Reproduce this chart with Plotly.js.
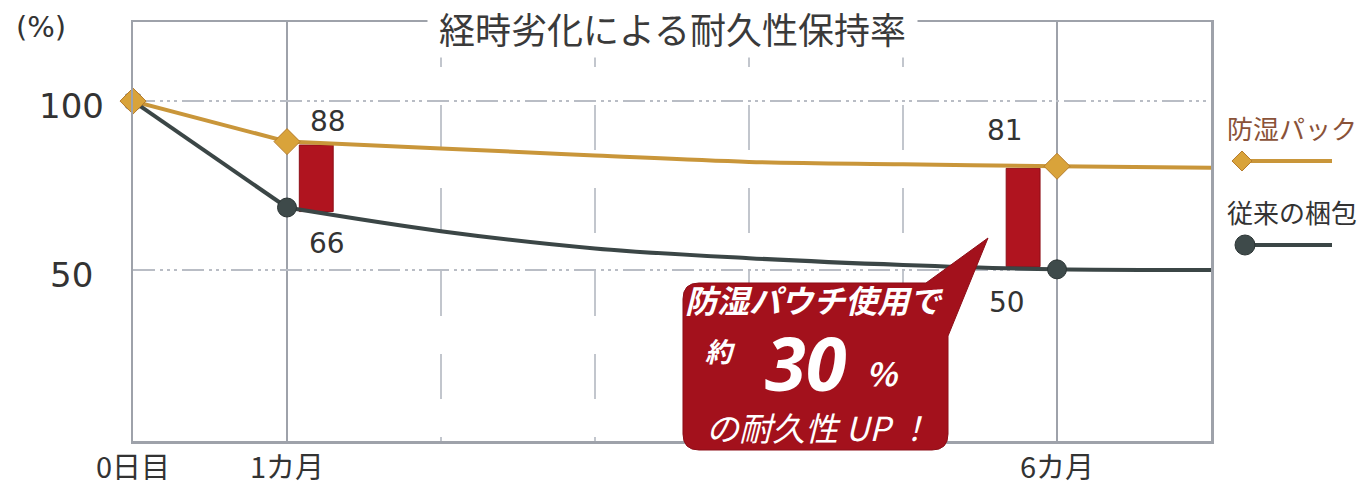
<!DOCTYPE html>
<html>
<head>
<meta charset="utf-8">
<script src="https://cdn.plot.ly/plotly-3.0.1.min.js"></script>
<style>
  html, body { margin: 0; padding: 0; background: #ffffff; }
  #chart { width: 1358px; height: 490px; }
</style>
</head>
<body>
<div id="chart"></div>
<script>
// ---------- data ----------
const months = [0, 1, 2, 3, 4, 5, 6, 7];
const packValues = [100, 88, 86.0, 83.9, 82.0, 81.3, 80.7, 80.3];   // 防湿パック
const convValues = [100, 68.5, 61.5, 56.4, 53.5, 51.5, 50.2, 50.0]; // 従来の梱包
const markerMonths = [0, 1, 6];
const packLabelMonths = [1, 6];
const packLabelText = ['88', '81'];
const convLabelMonths = [1, 6];
const convLabelText = ['66', '50'];
const gapBarX = [1.19, 5.78];
const gapBarBase = [67.3, 51.0];
const gapBarTop = [87.0, 80.1];
const xTickVals = [0, 1, 6];
const xTickText = ['0日目', '1カ月', '6カ月'];
const xMinorGrid = [2, 3, 4, 5];
const yTickVals = [50, 100];
const yTickText = ['50', '100'];
const seriesNames = ['防湿パック', '従来の梱包'];
const titleText = '経時劣化による耐久性保持率';
const calloutLines = ['防湿パウチ使用で', '約', '30', '%', 'の耐久性 UP ！'];

// ---------- helpers ----------
const L = 133, R = 1211, T = 22, B = 441;
const px = v => (v - L) / (R - L);
const py = v => (B - v) / (B - T);
const P = (x, y) => px(x).toFixed(5) + ',' + py(y).toFixed(5);
const valAt = (arr, m) => arr[months.indexOf(m)];

const PACK = '#c9963a', CONV = '#3b4646', RED = '#b0141f', GRID = '#b9bdc5', AXIS = '#9ea2aa';
const JP = '"Noto Sans CJK JP", "Noto Sans", sans-serif';
const NUM = '"DejaVu Sans", "Noto Sans", sans-serif';

const traces = [
  { type: 'bar', x: gapBarX, y: gapBarTop.map((t, i) => t - gapBarBase[i]), base: gapBarBase,
    width: 0.22, marker: { color: RED, line: { color: '#8e0d16', width: 1 } }, hoverinfo: 'skip', showlegend: false },
  { type: 'scatter', mode: 'lines', x: months.slice(0, 2), y: packValues.slice(0, 2),
    line: { color: PACK, width: 4 }, showlegend: false, cliponaxis: false },
  { type: 'scatter', mode: 'lines', x: months.slice(1), y: packValues.slice(1),
    line: { color: PACK, width: 4, shape: 'spline', smoothing: 1 }, showlegend: false, cliponaxis: false },
  { type: 'scatter', mode: 'lines', x: months.slice(0, 2), y: convValues.slice(0, 2),
    line: { color: CONV, width: 4 }, showlegend: false, cliponaxis: false },
  { type: 'scatter', mode: 'lines', x: months.slice(1), y: convValues.slice(1),
    line: { color: CONV, width: 4, shape: 'spline', smoothing: 1 }, showlegend: false, cliponaxis: false },
  { type: 'scatter', mode: 'markers', x: markerMonths, y: markerMonths.map(m => valAt(convValues, m)),
    marker: { symbol: 'circle', size: 19, color: '#3e4a4a', line: { color: '#2c3535', width: 1 } },
    showlegend: false, cliponaxis: false },
  { type: 'scatter', mode: 'markers', x: markerMonths, y: markerMonths.map(m => valAt(packValues, m)),
    marker: { symbol: 'diamond', size: 20, color: '#d9a33a', line: { color: '#b67c2c', width: 1 } },
    showlegend: false, cliponaxis: false },
  { type: 'scatter', mode: 'markers', x: [0], y: [0], xaxis: 'x2', marker: { opacity: 0 },
    hoverinfo: 'skip', showlegend: false }
];

const annotations = [];
// title (white background hides the top frame line)
annotations.push({ xref: 'paper', yref: 'paper', x: px(672), y: py(28), xanchor: 'center', yanchor: 'middle',
  text: '\u00a0' + titleText + '\u00a0', showarrow: false, bgcolor: '#ffffff', borderpad: 3,
  font: { family: JP, size: 36, color: '#3a3a3a' } });
// (%)
annotations.push({ xref: 'paper', yref: 'paper', x: px(41), y: py(27), xanchor: 'center', yanchor: 'middle',
  text: '(%)', showarrow: false, font: { family: NUM, size: 29, color: '#333' } });
// y tick labels, centred as in the original
yTickVals.forEach((v, i) => annotations.push({ xref: 'paper', yref: 'y', x: px(71), y: v,
  xanchor: 'center', yanchor: 'middle', yshift: -5, text: yTickText[i], showarrow: false,
  font: { family: NUM, size: 34, color: '#333' } }));
// data labels
const packShift = { 1: [41, 20], 6: [-52, 36] };
const convShift = { 1: [40, -36], 6: [-50, -33] };
packLabelMonths.forEach((m, i) => annotations.push({ x: m, y: valAt(packValues, m), xref: 'x', yref: 'y',
  xshift: packShift[m][0], yshift: packShift[m][1], text: packLabelText[i], showarrow: false,
  font: { family: NUM, size: 28, color: '#333' } }));
convLabelMonths.forEach((m, i) => annotations.push({ x: m, y: valAt(convValues, m), xref: 'x', yref: 'y',
  xshift: convShift[m][0], yshift: convShift[m][1], text: convLabelText[i], showarrow: false,
  font: { family: NUM, size: 28, color: '#333' } }));
// legend texts
annotations.push({ xref: 'paper', yref: 'paper', x: px(1292), y: py(127), xanchor: 'center', yanchor: 'middle',
  text: seriesNames[0], showarrow: false, font: { family: JP, size: 26, color: '#8a5238' } });
annotations.push({ xref: 'paper', yref: 'paper', x: px(1292), y: py(211), xanchor: 'center', yanchor: 'middle',
  text: seriesNames[1], showarrow: false, font: { family: JP, size: 26, color: '#333' } });
// callout texts
const cw = { family: JP, color: '#ffffff', size: 32 };
annotations.push({ xref: 'paper', yref: 'paper', x: px(814), y: py(299), xanchor: 'center', yanchor: 'middle',
  text: '<b><i>' + calloutLines[0] + '</i></b>', showarrow: false, font: cw });
annotations.push({ xref: 'paper', yref: 'paper', x: px(720), y: py(350), xanchor: 'center', yanchor: 'middle',
  text: '<b><i>' + calloutLines[1] + '</i></b>', showarrow: false, font: { family: JP, color: '#fff', size: 27 } });
annotations.push({ xref: 'paper', yref: 'paper', x: px(806), y: py(362), xanchor: 'center', yanchor: 'middle',
  text: '<b><i>' + calloutLines[2] + '</i></b>', showarrow: false, font: { family: '"Open Sans", "Noto Sans", sans-serif', color: '#fff', size: 74 } });
annotations.push({ xref: 'paper', yref: 'paper', x: px(882), y: py(372), xanchor: 'center', yanchor: 'middle',
  text: '<b><i>' + calloutLines[3] + '</i></b>', showarrow: false, font: { family: JP, color: '#fff', size: 32 } });
annotations.push({ xref: 'paper', yref: 'paper', x: px(818), y: py(427), xanchor: 'center', yanchor: 'middle',
  text: '<i>' + calloutLines[4] + '</i>', showarrow: false, font: { family: JP, color: '#fff', size: 33 } });

// callout bubble and legend swatches
const r = 16;
const bubble = 'M' + P(683 + r, 283) + ' L' + P(926, 283) + ' L' + P(988, 238) + ' L' + P(948, 336) +
  ' L' + P(948, 450 - r) + ' Q' + P(948, 450) + ' ' + P(948 - r, 450) +
  ' L' + P(683 + r, 450) + ' Q' + P(683, 450) + ' ' + P(683, 450 - r) +
  ' L' + P(683, 283 + r) + ' Q' + P(683, 283) + ' ' + P(683 + r, 283) + ' Z';
const shapes = [
  { type: 'path', xref: 'paper', yref: 'paper', path: bubble, fillcolor: '#a3111c', line: { color: '#8d0e18', width: 1 }, layer: 'above' },
  { type: 'line', xref: 'paper', yref: 'paper', x0: px(1240), x1: px(1332), y0: py(161), y1: py(161), line: { color: PACK, width: 4 } },
  { type: 'path', xref: 'paper', yref: 'paper', path: 'M' + P(1242, 151) + ' L' + P(1252, 161) + ' L' + P(1242, 171) + ' L' + P(1232, 161) + ' Z',
    fillcolor: '#d9a33a', line: { color: '#b67c2c', width: 1 } },
  { type: 'line', xref: 'paper', yref: 'paper', x0: px(1245), x1: px(1332), y0: py(245), y1: py(245), line: { color: CONV, width: 4 } },
  { type: 'circle', xref: 'paper', yref: 'paper', x0: px(1235), x1: px(1255), y0: py(235), y1: py(255),
    fillcolor: '#3e4a4a', line: { color: '#2c3535', width: 1 } }
];

const layout = {
  width: 1358, height: 490,
  margin: { l: L, r: 1358 - R, t: T, b: 490 - B, pad: 0 },
  paper_bgcolor: '#ffffff', plot_bgcolor: '#ffffff',
  showlegend: false,
  bargap: 0,
  xaxis: {
    range: [0, 7], tickvals: xTickVals, ticktext: xTickText, ticks: '', ticklabelstandoff: 0,
    showgrid: true, gridcolor: AXIS, gridwidth: 2, zeroline: false,
    showline: true, mirror: true, linecolor: AXIS, linewidth: 2.5,
    tickfont: { family: JP, size: 29, color: '#333' }, fixedrange: true
  },
  xaxis2: {
    overlaying: 'x', matches: 'x', range: [0, 7], tickvals: xMinorGrid, showticklabels: false, ticks: '',
    showgrid: true, gridcolor: '#c2c6cd', gridwidth: 2, griddash: '45px,38px', zeroline: false, showline: false
  },
  yaxis: {
    range: [-0.6, 123.4], tickvals: yTickVals, showticklabels: false, ticks: '',
    showgrid: true, gridcolor: GRID, gridwidth: 2, griddash: '22px,5px,3px,4px,3px,4px,3px,5px', zeroline: false,
    showline: true, mirror: true, linecolor: AXIS, linewidth: 2.5, fixedrange: true
  },
  annotations: annotations,
  shapes: shapes
};

Plotly.newPlot('chart', traces, layout, { displayModeBar: false, staticPlot: true });
</script>
</body>
</html>
